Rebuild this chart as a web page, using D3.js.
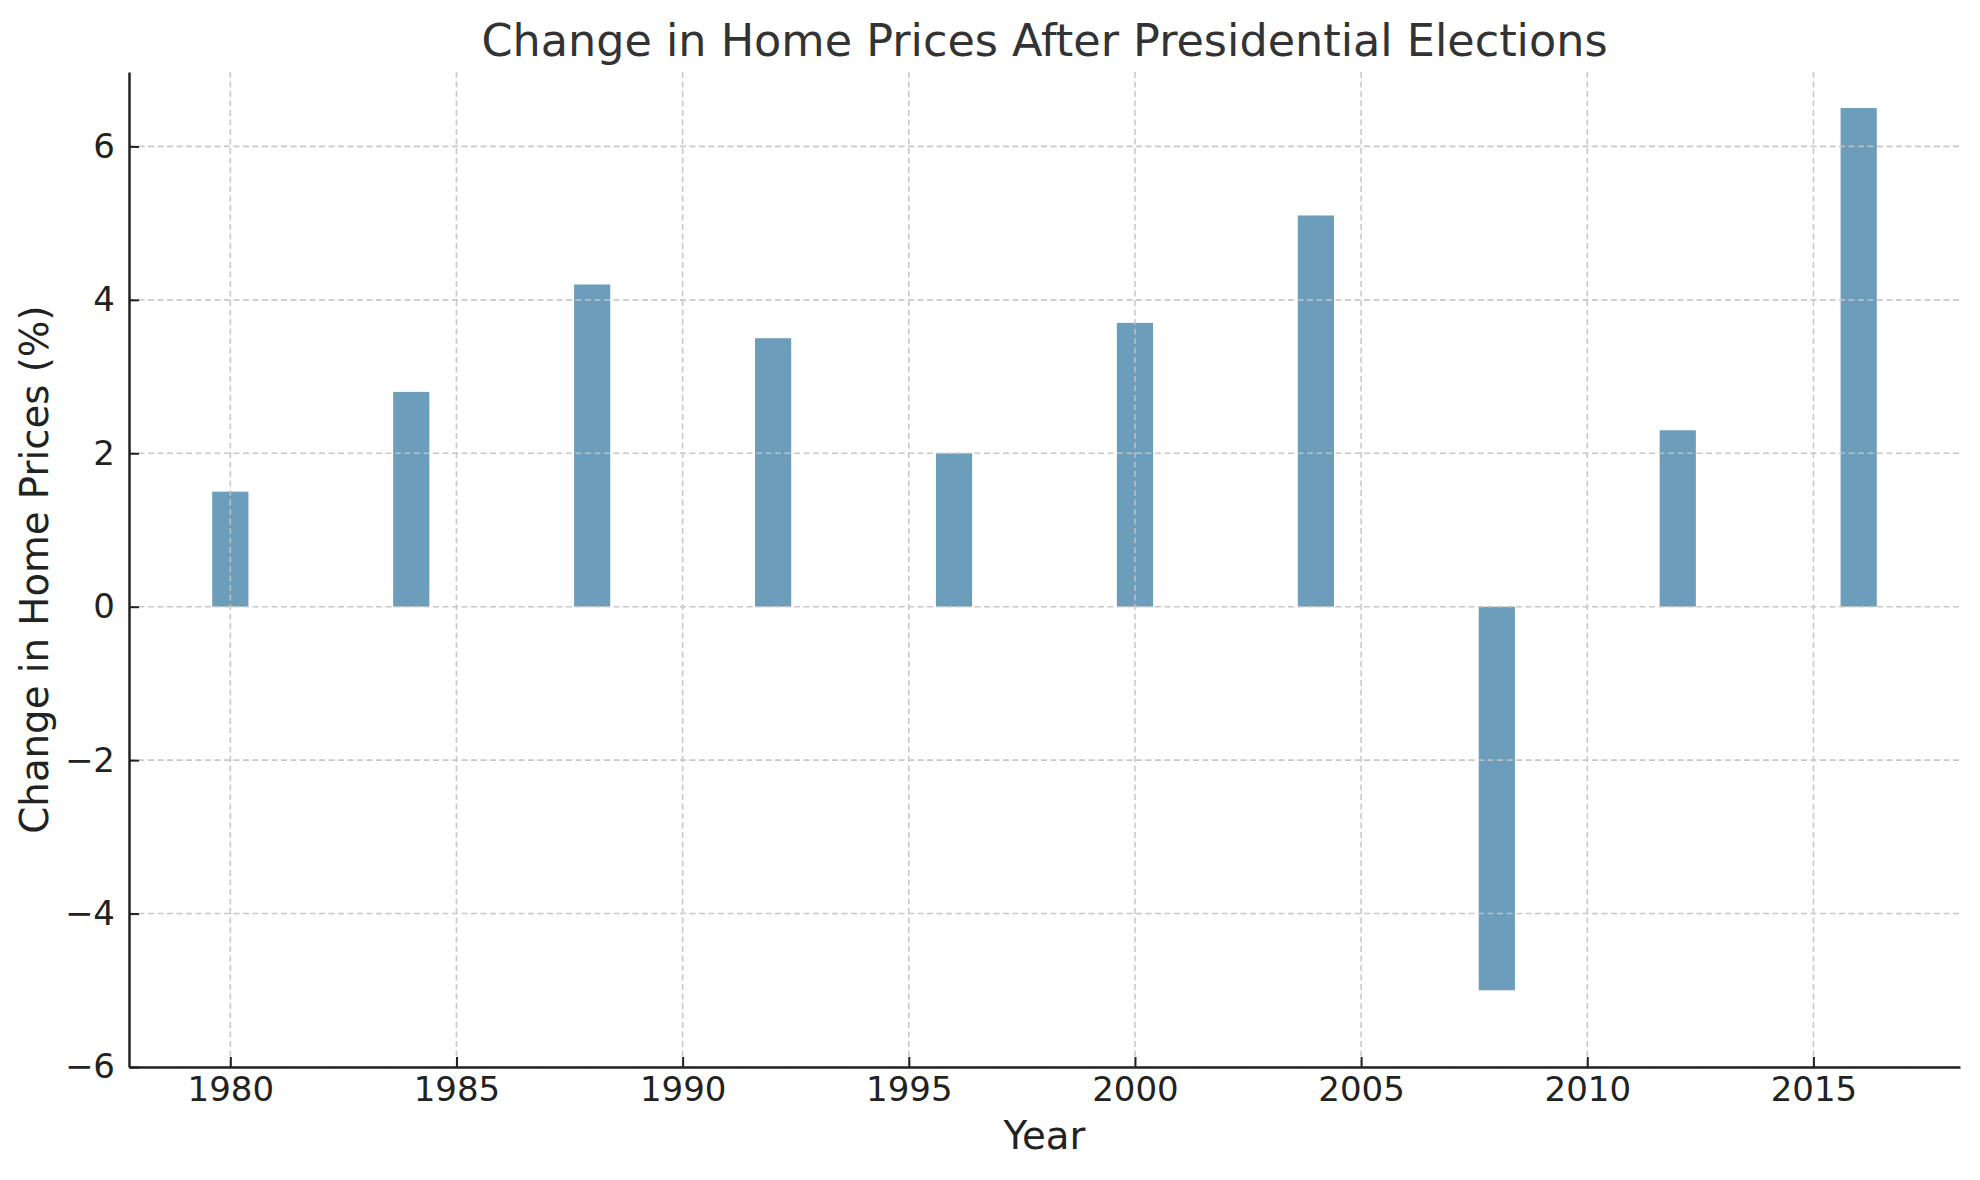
<!DOCTYPE html>
<html>
<head>
<meta charset="utf-8">
<script src="https://cdn.jsdelivr.net/npm/d3@7.9.0/dist/d3.min.js"></script>
<style>
  body { margin: 0; background: #fff; }
  svg { display: block; font-family: "DejaVu Sans", sans-serif; }
</style>
</head>
<body>
<svg id="chart" width="1980" height="1180"></svg>
<script>
// election years and the change in home prices that followed (%)
const years = [1980, 1984, 1988, 1992, 1996, 2000, 2004, 2008, 2012, 2016];
const changes = [1.5, 2.8, 4.2, 3.5, 2.0, 3.7, 5.1, -5.0, 2.3, 6.5];
const xTicks = [1980, 1985, 1990, 1995, 2000, 2005, 2010, 2015];
const yTicks = [-6, -4, -2, 0, 2, 4, 6];

const margin = { top: 72, right: 20, bottom: 113, left: 129 };
const width = 1980, height = 1180;
const barWidth = 0.8; // in years

const svg = d3.select("#chart");

const x = d3.scaleLinear()
    .domain([1977.76, 2018.24])
    .range([margin.left, width - margin.right]);

const y = d3.scaleLinear()
    .domain([-6, 6.97])
    .range([height - margin.bottom, margin.top]);

// bars
svg.append("g")
    .selectAll("rect")
    .data(years)
    .join("rect")
    .attr("x", (d) => x(d - barWidth / 2))
    .attr("width", (d) => x(d + barWidth / 2) - x(d - barWidth / 2))
    .attr("y", (d, i) => y(Math.max(0, changes[i])))
    .attr("height", (d, i) => Math.abs(y(changes[i]) - y(0)))
    .attr("fill", "#6c9ebb");

// dashed grid (sits over the bars, like the original)
const grid = svg.append("g")
    .attr("stroke", "#c4c4c4")
    .attr("stroke-width", 1.6)
    .attr("stroke-dasharray", "6,3.5")
    .attr("opacity", 0.9);

grid.selectAll(".gx")
    .data(xTicks)
    .join("line")
    .attr("x1", (d) => x(d)).attr("x2", (d) => x(d))
    .attr("y1", margin.top).attr("y2", height - margin.bottom);

grid.selectAll(".gy")
    .data(yTicks)
    .join("line")
    .attr("x1", margin.left).attr("x2", width - margin.right)
    .attr("y1", (d) => y(d)).attr("y2", (d) => y(d));

// axes with inward ticks
const xAxis = svg.append("g")
    .attr("transform", `translate(0,${height - margin.bottom})`)
    .call(d3.axisBottom(x).tickValues(xTicks).tickFormat(d3.format("d"))
        .tickSizeInner(-10).tickSizeOuter(0).tickPadding(14));

const yAxis = svg.append("g")
    .attr("transform", `translate(${margin.left},0)`)
    .call(d3.axisLeft(y).tickValues(yTicks).tickFormat((d) => d < 0 ? "\u2212" + Math.abs(d) : d)
        .tickSizeInner(-10).tickSizeOuter(0).tickPadding(14));

[xAxis, yAxis].forEach((g) => {
    g.select(".domain").attr("stroke", "#222").attr("stroke-width", 2.5);
    g.selectAll(".tick line").attr("stroke", "#222").attr("stroke-width", 2);
    g.selectAll(".tick text")
        .attr("fill", "#222")
        .style("font-size", "34px")
        .style("font-family", "DejaVu Sans");
});
xAxis.selectAll(".tick text").attr("dy", "0.71em").attr("y", 10);

// title and axis labels
svg.append("text")
    .attr("x", (margin.left + width - margin.right) / 2)
    .attr("y", 56)
    .attr("text-anchor", "middle")
    .attr("fill", "#333")
    .style("font-size", "44.5px")
    .text("Change in Home Prices After Presidential Elections");

svg.append("text")
    .attr("x", (margin.left + width - margin.right) / 2)
    .attr("y", 1149)
    .attr("text-anchor", "middle")
    .attr("fill", "#222")
    .style("font-size", "38.7px")
    .text("Year");

svg.append("text")
    .attr("transform", `translate(48,${(margin.top + height - margin.bottom) / 2}) rotate(-90)`)
    .attr("text-anchor", "middle")
    .attr("fill", "#222")
    .style("font-size", "38.7px")
    .text("Change in Home Prices (%)");
</script>
</body>
</html>
